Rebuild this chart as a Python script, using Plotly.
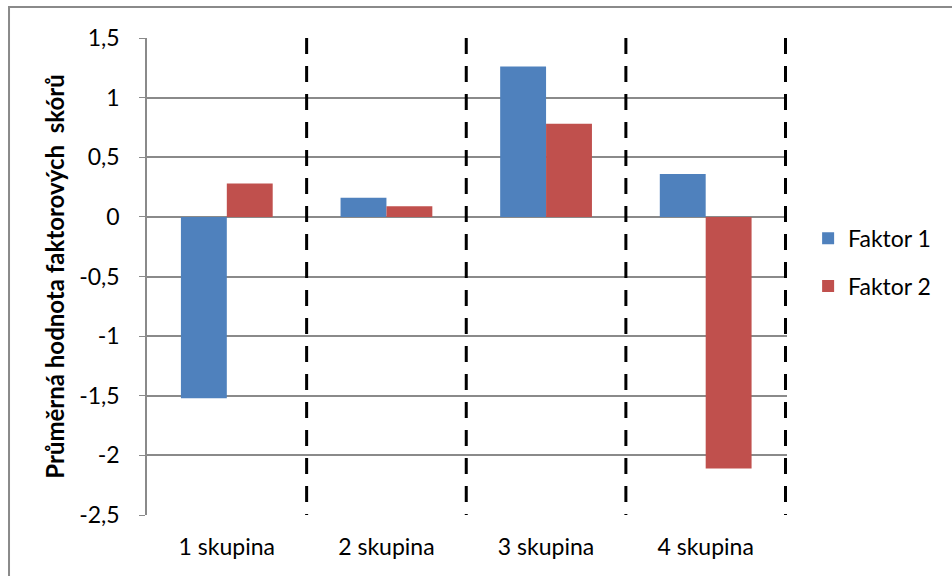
import plotly.graph_objects as go

# Data
categories = ["1 skupina", "2 skupina", "3 skupina", "4 skupina"]
faktor1 = [-1.52, 0.16, 1.26, 0.36]
faktor2 = [0.28, 0.09, 0.78, -2.11]
ytick_vals = [1.5, 1, 0.5, 0, -0.5, -1, -1.5, -2, -2.5]
ytick_text = ["1,5", "1", "0,5", "0", "-0,5", "-1", "-1,5", "-2", "-2,5"]

font_family = "Lato, 'Open Sans', sans-serif"
grid_col = "#8a8a8a"

fig = go.Figure()
fig.add_trace(go.Bar(x=categories, y=faktor1, name="Faktor 1", legendgroup="f1",
                     marker=dict(color="#4F81BD", line=dict(width=0))))
fig.add_trace(go.Bar(x=categories, y=faktor2, name="Faktor 2", legendgroup="f2",
                     marker=dict(color="#C0504D", line=dict(width=0))))

# dashed separators between groups
for i in range(len(categories)):
    fig.add_shape(type="line", xref="x", yref="y",
                  x0=i + 0.5, x1=i + 0.5, y0=ytick_vals[0], y1=ytick_vals[-1],
                  line=dict(color="black", width=3, dash="16px,12px"), layer="above")

# outer chart frame
fig.add_shape(type="rect", xref="paper", yref="paper",
              x0=-0.2156, x1=1.5, y0=-0.3, y1=1.065,
              line=dict(color="#8a8a8a", width=2), layer="below")

fig.update_layout(
    width=952, height=576, autosize=False,
    margin=dict(l=147, r=165, t=38, b=61),
    paper_bgcolor="white", plot_bgcolor="white",
    font=dict(family=font_family, size=24, color="black"),
    barmode="group", bargap=0.425, bargroupgap=0,
    showlegend=True,
    legend=dict(x=1.033, y=0.53, xanchor="left", yanchor="middle",
                font=dict(size=23), tracegroupgap=15, itemwidth=30,
                bgcolor="rgba(0,0,0,0)"),
    xaxis=dict(showgrid=False, showline=False, ticks="",
               ticklabelstandoff=16, tickfont=dict(size=23)),
    yaxis=dict(range=[-2.5, 1.5], tickvals=ytick_vals, ticktext=ytick_text,
               showgrid=True, gridcolor=grid_col, gridwidth=1.5,
               zeroline=True, zerolinecolor=grid_col, zerolinewidth=2,
               showline=True, linecolor=grid_col, linewidth=1.5,
               ticks="outside", ticklen=6, tickcolor=grid_col,
               ticklabelstandoff=15, tickfont=dict(size=23),
               title=dict(text="<b>Průměrná hodnota faktorových  skórů</b>",
                          font=dict(size=24), standoff=8)),
)

fig.write_html("out.html", config={"responsive": False, "displayModeBar": False},
               post_script="document.body.style.margin='0';")
